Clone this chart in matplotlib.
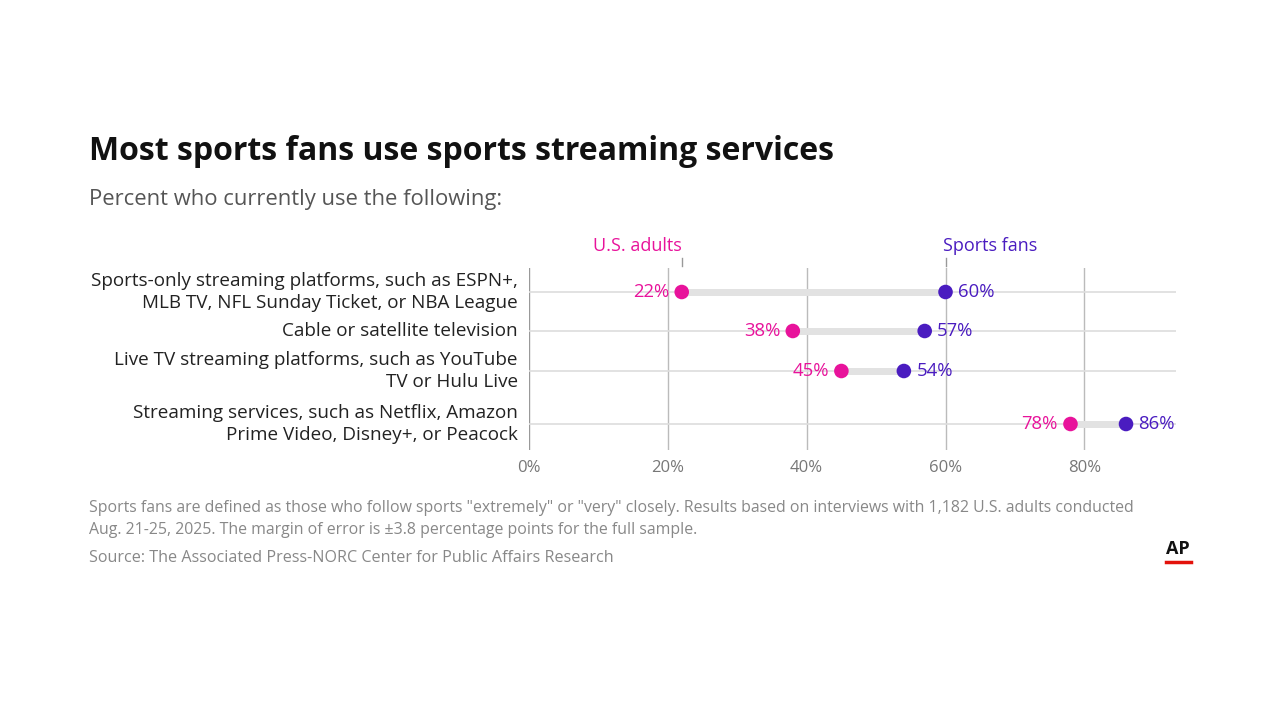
import matplotlib
matplotlib.use("Agg")
import matplotlib.pyplot as plt

categories = ["Sports-only streaming platforms, such as ESPN+,\nMLB TV, NFL Sunday Ticket, or NBA League",
              "Cable or satellite television",
              "Live TV streaming platforms, such as YouTube\nTV or Hulu Live",
              "Streaming services, such as Netflix, Amazon\nPrime Video, Disney+, or Peacock"]
us_adults = [22, 38, 45, 78]
sports_fans = [60, 57, 54, 86]
ticks = [0, 20, 40, 60, 80]
tick_labels = ["0%", "20%", "40%", "60%", "80%"]

PINK = "#e8139b"
PURPLE = "#4a1cc0"
plt.rcParams['font.family'] = ['Open Sans', 'DejaVu Sans']

fig = plt.figure(figsize=(12.8, 7.2), dpi=100)
ax = fig.add_axes([529/1280, 1-450/720, (1176-529)/1280, (450-268)/720])
ypos = [24, 63, 103, 156]  # layout positions (pixel rows from axes top)
ax.set_xlim(0, 93.2)
ax.set_ylim(182, 0)
for sp in ax.spines.values():
    sp.set_visible(False)
ax.set_yticks([])
ax.set_xticks(ticks)
ax.set_xticklabels(tick_labels, color="#777777", fontsize=12)
ax.tick_params(axis='x', length=0, pad=7)
for t in ticks:
    ax.axvline(t, color="#bbbbbb" if t else "#999999", lw=1, zorder=0)
for y in ypos:
    ax.axhline(y, color="#dddddd", lw=1.2, zorder=0)
for y, a, s, lab in zip(ypos, us_adults, sports_fans, categories):
    ax.plot([a, s], [y, y], color="#e2e2e2", lw=5, solid_capstyle="butt", zorder=1)
    ax.scatter([a], [y], s=110, color=PINK, zorder=3, edgecolors="none")
    ax.scatter([s], [y], s=110, color=PURPLE, zorder=3, edgecolors="none")
    ax.text(a - 1.8, y, f"{a}%", ha="right", va="center", color=PINK, fontsize=13.3)
    ax.text(s + 1.8, y, f"{s}%", ha="left", va="center", color=PURPLE, fontsize=13.3)
    ax.text(-1.6, y, lab, ha="right", va="center", fontsize=13.6, color="#222222", linespacing=1.25)

ax.plot([us_adults[0]]*2, [-10, -2], color="#999999", lw=1, clip_on=False)
ax.plot([sports_fans[0]]*2, [-10, -2], color="#999999", lw=1, clip_on=False)
ax.text(us_adults[0], -13, "U.S. adults", ha="right", va="bottom", color=PINK, fontsize=13)
ax.text(sports_fans[0] - 0.3, -13, "Sports fans", ha="left", va="bottom", color=PURPLE, fontsize=13)

fig.text(89/1280, 1-152/720, "Most sports fans use sports streaming services", fontsize=23,
         fontweight="bold", va="center", ha="left", color="#111111")
fig.text(89/1280, 1-200/720, "Percent who currently use the following:", fontsize=15.8,
         va="center", ha="left", color="#555555")
fig.text(89/1280, 1-519/720,
         "Sports fans are defined as those who follow sports \"extremely\" or \"very\" closely. Results based on interviews with 1,182 U.S. adults conducted\nAug. 21-25, 2025. The margin of error is \u00b13.8 percentage points for the full sample.",
         fontsize=11.4, va="center", ha="left", color="#888888", linespacing=1.45)
fig.text(89/1280, 1-558/720, "Source: The Associated Press-NORC Center for Public Affairs Research",
         fontsize=11.6, va="center", ha="left", color="#888888")
fig.text(1178/1280, 1-549/720, "AP", fontsize=13, fontweight="bold", va="center", ha="center", color="#111111")
fig.add_artist(plt.Line2D([1166/1280, 1191/1280], [1-562/720]*2, color="#e3120b", lw=2.5))

fig.savefig("out.png", dpi=100, facecolor="white")
